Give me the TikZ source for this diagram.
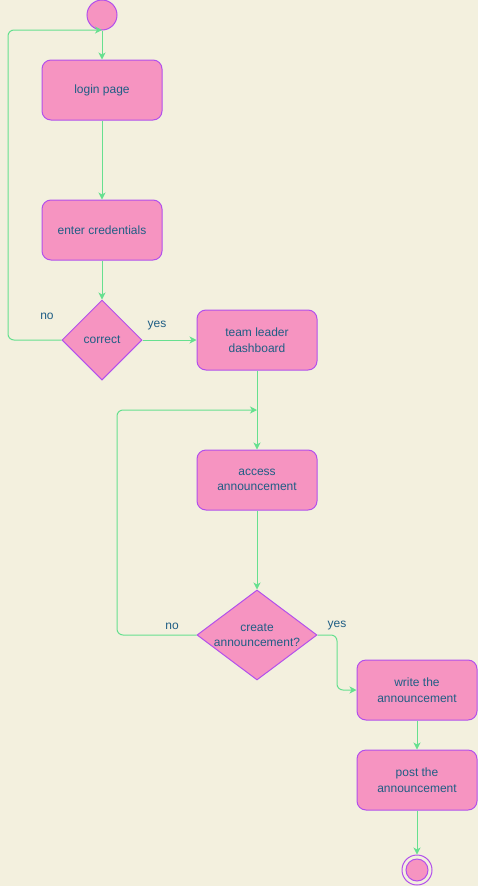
\documentclass[tikz,border=0pt]{standalone}
\usepackage{fontspec}
\setmainfont{Liberation Sans}
\usetikzlibrary{arrows.meta,shapes.geometric}
\definecolor{bg}{HTML}{F3F0DE}
\definecolor{boxfill}{HTML}{F694C1}
\definecolor{boxline}{HTML}{B250EC}
\definecolor{flow}{HTML}{66E08F}
\definecolor{label}{HTML}{1F5E85}
\begin{document}
\begin{tikzpicture}[x=1pt,y=-1pt,
  every node/.style={font=\fontsize{12}{15.5}\selectfont, text=label},
  actbox/.style={draw=boxline, fill=boxfill, line width=1pt, rounded corners=9pt,
    minimum width=120pt, minimum height=60pt, align=center, inner sep=0pt},
  choice/.style={draw=boxline, fill=boxfill, line width=1pt, diamond, aspect=1,
    inner sep=0pt, align=center},
  flowline/.style={draw=flow, line width=1pt, rounded corners=6pt,
    -{Stealth[length=7pt,width=7pt,inset=2pt]}},
  guard/.style={inner sep=0pt}]
\fill[bg] (0,0) rectangle (478,886);
\useasboundingbox (0,0) rectangle (478,886);

% nodes
\node[circle, draw=boxline, fill=boxfill, line width=1pt, minimum size=30pt, inner sep=0pt] (start) at (102,15) {};
\node[actbox] (login) at (102,90) {login page};
\node[actbox] (cred) at (102,230) {enter credentials};
\node[choice, minimum width=80pt, minimum height=80pt] (ok) at (102,340) {correct};
\node[actbox] (dash) at (257,340) {team leader\\dashboard};
\node[actbox] (access) at (257,480) {access\\announcement};
\node[choice, diamond, aspect=1.333, minimum width=120pt, minimum height=90pt] (create) at (257,635) {create\\announcement?};
\node[actbox] (write) at (417,690) {write the\\announcement};
\node[actbox] (post) at (417,780) {post the\\announcement};
\node[circle, draw=boxline, fill=bg, line width=1pt, minimum size=30pt, inner sep=0pt] (stop) at (417,870) {};
\node[circle, draw=boxline, fill=boxfill, line width=1pt, minimum size=22pt, inner sep=0pt] (stopdot) at (417,870) {};

\coordinate (loop1) at (102,30);
\coordinate (loop2) at (257,410);

% connectors
\draw[flowline] (start) -- (login);
\draw[flowline] (login) -- (cred);
\draw[flowline] (cred) -- (ok);
\draw[flowline] (ok.west) -- (8,340) -- (8,30) -- (loop1);
\draw[flowline] (ok.east) -- (dash.west);
\draw[flowline] (dash) -- (access);
\draw[flowline] (access) -- (create);
\draw[flowline] (create.west) -- (117,635) -- (117,410) -- (loop2);
\draw[flowline] (create.east) -- (337,635) -- (337,690) -- (write.west);
\draw[flowline] (write) -- (post);
\draw[flowline] (post) -- (stop);

% guards
\node[guard] (no1) at (47,316) {no};
\node[guard] (yes1) at (157,326) {yes};
\node[guard] (no2) at (172,626) {no};
\node[guard] (yes2) at (337,626) {yes};
\end{tikzpicture}
\end{document}
